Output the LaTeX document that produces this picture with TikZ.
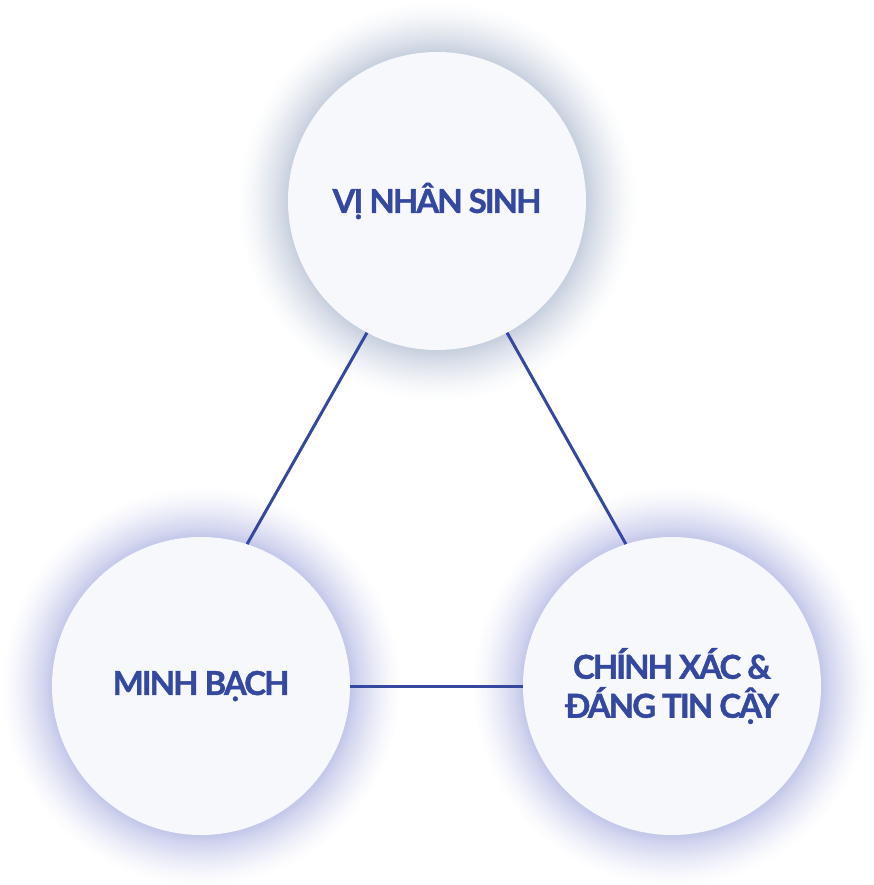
\documentclass[tikz,border=0pt]{standalone}
\usepackage{fontspec}
\setmainfont{Lato}[LetterSpace=-6, BoldFeatures={FakeBold=1.2}]
\usetikzlibrary{positioning}
\definecolor{ink}{RGB}{52,72,160}
\definecolor{bubblefill}{RGB}{247,248,251}
\definecolor{glowgrey}{RGB}{198,207,222}
\definecolor{glowblue}{RGB}{194,199,233}
\pgfdeclareradialshading{halogrey}{\pgfpoint{0bp}{0bp}}{%
  color(0bp)=(glowgrey); color(18.6bp)=(glowgrey);
  color(19.8bp)=(glowgrey!72!white); color(21.6bp)=(glowgrey!40!white);
  color(23.5bp)=(glowgrey!12!white); color(25bp)=(white); color(50bp)=(white)}
\pgfdeclareradialshading{haloblue}{\pgfpoint{0bp}{0bp}}{%
  color(0bp)=(glowblue); color(18.6bp)=(glowblue);
  color(19.8bp)=(glowblue!72!white); color(21.6bp)=(glowblue!40!white);
  color(23.5bp)=(glowblue!12!white); color(25bp)=(white); color(50bp)=(white)}
\tikzset{
  bubble/.style={circle, fill=bubblefill, minimum size=298pt, inner sep=0pt,
    align=center, text=ink, font=\bfseries\fontsize{33}{39}\selectfont},
  link/.style={draw=ink, line width=3pt},
}

\begin{document}
\begin{tikzpicture}[x=1pt, y=-1pt]
  \useasboundingbox (0,0) rectangle (873,885);
  \coordinate (ctop) at (437,201);
  \coordinate (cleft) at (201,686);
  \coordinate (cright) at (672,686);
  % soft halos
  \shade[shading=halogrey] (ctop) circle (200pt);
  \shade[shading=haloblue] (cleft) circle (200pt);
  \shade[shading=haloblue] (cright) circle (200pt);
  \node[bubble] (top) at (ctop) {VỊ NHÂN SINH};
  \node[bubble] (left) at (cleft) {MINH BẠCH};
  \node[bubble] (right) at (cright) {CHÍNH XÁC \&\\ĐÁNG TIN CẬY};
  \draw[link] (top.242) -- (left.72);
  \draw[link] (top.298) -- (right.108);
  \draw[link] (left.east) -- (right.west);
\end{tikzpicture}
\end{document}
